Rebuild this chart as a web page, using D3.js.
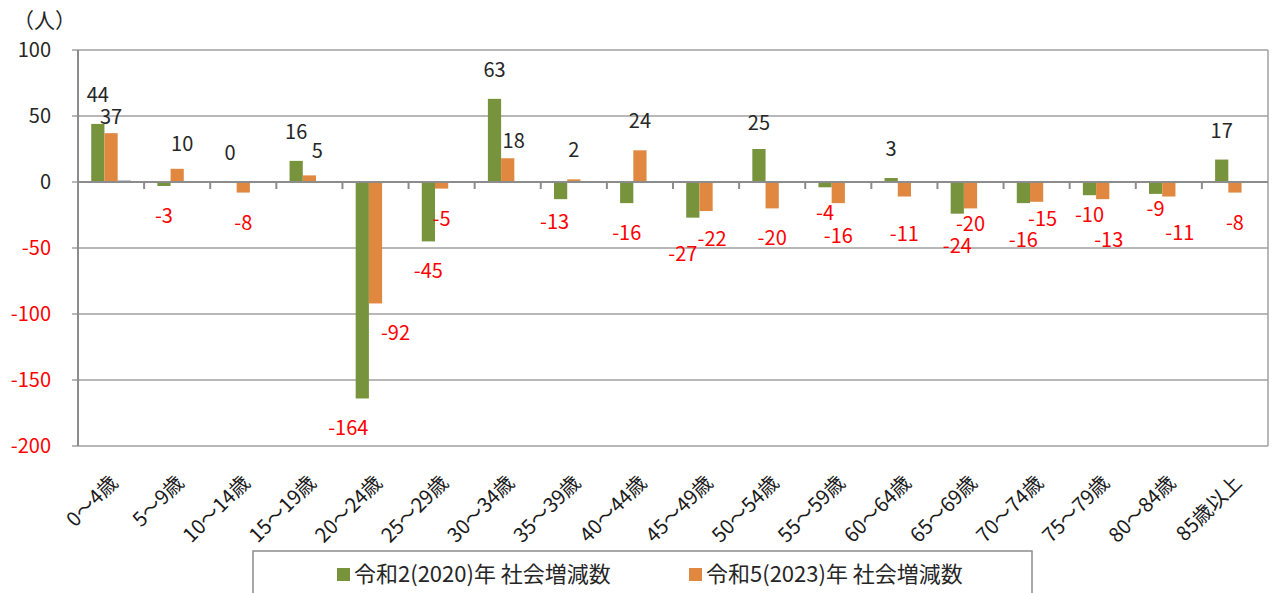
<!DOCTYPE html>
<html>
<head>
<meta charset="utf-8">
<script src="https://cdnjs.cloudflare.com/ajax/libs/d3/7.8.5/d3.min.js"></script>
<style>
  body { margin: 0; background: #fff; }
  svg { font-family: "Noto Sans CJK JP", "Noto Sans", sans-serif; }
</style>
</head>
<body>
<div id="chart"></div>
<script>
// age groups on the x axis
var categories = ["0～4歳", "5～9歳", "10～14歳", "15～19歳", "20～24歳", "25～29歳",
  "30～34歳", "35～39歳", "40～44歳", "45～49歳", "50～54歳", "55～59歳",
  "60～64歳", "65～69歳", "70～74歳", "75～79歳", "80～84歳", "85歳以上"];

// social increase / decrease (people)
var r2_2020 = [44, -3, 0, 16, -164, -45, 63, -13, -16, -27, 25, -4, 3, -24, -16, -10, -9, 17];
var r5_2023 = [37, 10, -8, 5, -92, -5, 18, 2, 24, -22, -20, -16, -11, -20, -15, -13, -11, -8];
// third (unlabelled) series, only a sliver is visible in the first group
var extraSeries = [1, 0, 0, 0, 0, 0, 0, 0, 0, 0, 0, 0, 0, 0, 0, 0, 0, 0];

var seriesNames = ["令和2(2020)年 社会増減数", "令和5(2023)年 社会増減数"];
var yTicks = [100, 50, 0, -50, -100, -150, -200];

// hand-placed label tweaks from the original, keyed series-index
var labelNudge = {
  "0-4": [-14, 0], "0-7": [-6, -7], "0-9": [-10, 6], "0-10": [0, 3], "0-11": [0, -4],
  "0-13": [0, 2], "0-14": [0, 7], "0-15": [0, -10], "0-16": [0, -15],
  "1-0": [0, 13], "1-1": [5, 4], "1-3": [8, 5], "1-4": [20, 0], "1-6": [6, 12],
  "1-9": [6, -2], "1-11": [0, 3], "1-12": [0, 7], "1-13": [0, -14], "1-14": [6, -13],
  "1-15": [6, 11], "1-16": [11, 6]
};

var colors = ["#77933c", "#e0883f", "#44546a"];

var width = 1272, height = 593;
var margin = {left: 78, right: 4, top: 50, bottom: 147};

var svg = d3.select("#chart").append("svg")
  .attr("width", width)
  .attr("height", height);

var x = d3.scaleBand().domain(d3.range(categories.length))
  .range([margin.left, width - margin.right]);
var xs = d3.scaleBand().domain([0, 1, 2]).range([0, x.bandwidth()])
  .paddingInner(0).paddingOuter(1);
var y = d3.scaleLinear().domain([-200, 100]).range([height - margin.bottom, margin.top]);

// gridlines
svg.append("g").selectAll("line")
  .data(yTicks)
  .enter().append("line")
  .attr("x1", margin.left - 6)
  .attr("x2", width - margin.right)
  .attr("y1", function(d) { return y(d); })
  .attr("y2", function(d) { return y(d); })
  .attr("stroke", "#a0a0a0")
  .attr("stroke-width", 1.5);

// right border of plot area
svg.append("line")
  .attr("x1", width - margin.right).attr("x2", width - margin.right)
  .attr("y1", y(100)).attr("y2", y(-200))
  .attr("stroke", "#a0a0a0").attr("stroke-width", 1.5);

// y axis line
svg.append("line")
  .attr("x1", margin.left).attr("x2", margin.left)
  .attr("y1", y(100)).attr("y2", y(-200))
  .attr("stroke", "#8c8c8c").attr("stroke-width", 2);

// y tick labels
svg.append("g").selectAll("text")
  .data(yTicks)
  .enter().append("text")
  .attr("x", margin.left - 27)
  .attr("y", function(d) { return y(d) + 7; })
  .attr("text-anchor", "end")
  .attr("font-size", 20)
  .attr("fill", function(d) { return d < 0 ? "#ff0000" : "#262626"; })
  .text(function(d) { return d; });

// unit
svg.append("text")
  .attr("x", 13).attr("y", 28)
  .attr("font-size", 21)
  .attr("fill", "#262626")
  .text("（人）");

// bars
var allSeries = [r2_2020, r5_2023, extraSeries];
allSeries.forEach(function(vals, s) {
  svg.append("g").selectAll("rect")
    .data(vals)
    .enter().append("rect")
    .attr("x", function(d, i) { return x(i) + xs(s); })
    .attr("width", xs.bandwidth())
    .attr("y", function(d) { return y(Math.max(0, d)); })
    .attr("height", function(d) { return Math.abs(y(d) - y(0)); })
    .attr("fill", colors[s]);
});

// x axis (zero line) with category ticks
svg.append("line")
  .attr("x1", margin.left).attr("x2", width - margin.right)
  .attr("y1", y(0)).attr("y2", y(0))
  .attr("stroke", "#8c8c8c").attr("stroke-width", 2);

svg.append("g").selectAll("line")
  .data(d3.range(1, categories.length))
  .enter().append("line")
  .attr("x1", function(i) { return x(i); })
  .attr("x2", function(i) { return x(i); })
  .attr("y1", y(0)).attr("y2", y(0) + 7)
  .attr("stroke", "#8c8c8c").attr("stroke-width", 2);

// data labels
[r2_2020, r5_2023].forEach(function(vals, s) {
  svg.append("g").selectAll("text")
    .data(vals)
    .enter().append("text")
    .attr("x", function(d, i) {
      var n = labelNudge[s + "-" + i] || [0, 0];
      return x(i) + xs(s) + xs.bandwidth() / 2 + n[0];
    })
    .attr("y", function(d, i) {
      var n = labelNudge[s + "-" + i] || [0, 0];
      var c = d >= 0 ? y(d) - 29 : y(d) + 30;
      return c + n[1] + 7;
    })
    .attr("text-anchor", "middle")
    .attr("font-size", 20)
    .attr("fill", function(d) { return d < 0 ? "#ff0000" : "#262626"; })
    .text(function(d) { return d; });
});

// category labels, rotated
svg.append("g").selectAll("text")
  .data(categories)
  .enter().append("text")
  .attr("transform", function(d, i) {
    return "translate(" + (x(i) + x.bandwidth() / 2 + 8) + "," + 484 + ") rotate(-45)";
  })
  .attr("text-anchor", "end")
  .attr("font-size", 20)
  .attr("fill", "#1a1a1a")
  .text(function(d) { return d; });

// legend
var legend = svg.append("g");
legend.append("rect")
  .attr("x", 253).attr("y", 551)
  .attr("width", 779).attr("height", 60)
  .attr("fill", "#fff")
  .attr("stroke", "#8c8c8c").attr("stroke-width", 1.5);

var legendX = [337, 689];
seriesNames.forEach(function(name, s) {
  legend.append("rect")
    .attr("x", legendX[s]).attr("y", 568)
    .attr("width", 13).attr("height", 13)
    .attr("fill", colors[s]);
  legend.append("text")
    .attr("x", legendX[s] + 17).attr("y", 582)
    .attr("font-size", 22)
    .attr("fill", "#262626")
    .text(name);
});
</script>
</body>
</html>
